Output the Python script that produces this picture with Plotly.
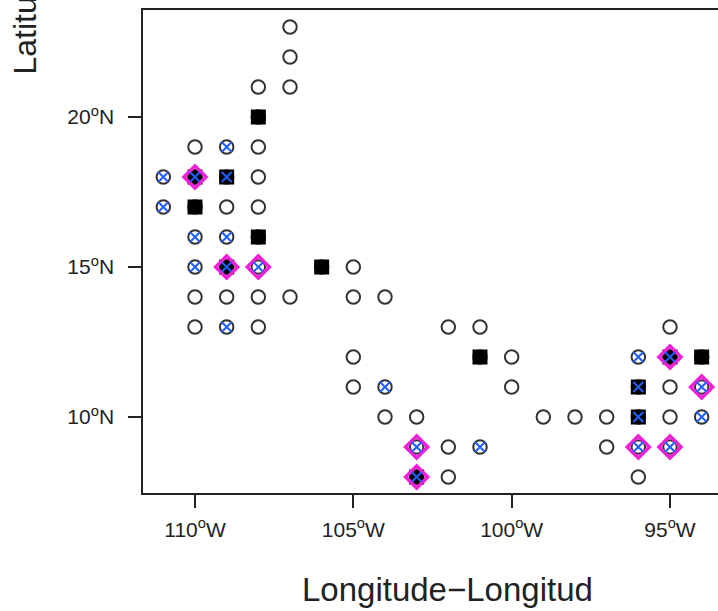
import plotly.graph_objects as go

# All sampled stations (open circles)
circle_lon = [-107, -107, -108, -107, -108,
              -110, -109, -108,
              -111, -110, -109, -108,
              -111, -110, -109, -108,
              -110, -109, -108,
              -110, -109, -108, -106, -105,
              -110, -109, -108, -107, -105, -104,
              -110, -109, -108, -102, -101, -95,
              -105, -101, -100, -96, -95, -94,
              -105, -104, -100, -96, -95, -94,
              -104, -103, -99, -98, -97, -96, -95, -94,
              -103, -102, -101, -97, -96, -95,
              -103, -102, -96]
circle_lat = [23, 22, 21, 21, 20,
              19, 19, 19,
              18, 18, 18, 18,
              17, 17, 17, 17,
              16, 16, 16,
              15, 15, 15, 15, 15,
              14, 14, 14, 14, 14, 14,
              13, 13, 13, 13, 13, 13,
              12, 12, 12, 12, 12, 12,
              11, 11, 11, 11, 11, 11,
              10, 10, 10, 10, 10, 10, 10, 10,
              9, 9, 9, 9, 9, 9,
              8, 8, 8]

# Filled squares
square_lon = [-108, -110, -109, -110, -108, -109, -106, -101, -103, -96, -96, -95, -94]
square_lat = [20, 18, 18, 17, 16, 15, 15, 12, 8, 11, 10, 12, 12]

# Blue crosses
cross_lon = [-109, -111, -110, -109, -111, -110, -109, -110, -109, -108, -109,
             -104, -103, -103, -101, -96, -95, -96, -94, -96, -94, -96, -95]
cross_lat = [19, 18, 18, 18, 17, 16, 16, 15, 15, 15, 13,
             11, 9, 8, 9, 12, 12, 11, 11, 10, 10, 9, 9]

# Magenta diamonds
diamond_lon = [-110, -109, -108, -103, -103, -96, -95, -95, -94]
diamond_lat = [18, 15, 15, 9, 8, 9, 9, 12, 11]

x_tick_vals = [-110, -105, -100, -95]
x_tick_text = ["110<sup>o</sup>W", "105<sup>o</sup>W", "100<sup>o</sup>W", "95<sup>o</sup>W"]
y_tick_vals = [10, 15, 20]
y_tick_text = ["10<sup>o</sup>N", "15<sup>o</sup>N", "20<sup>o</sup>N"]

FONT = "Liberation Sans, Arial, sans-serif"

fig = go.Figure()
fig.add_trace(go.Scatter(x=circle_lon, y=circle_lat, mode="markers",
                         marker=dict(symbol="circle-open", size=13.5, color="#333333",
                                     line=dict(width=2, color="#333333")),
                         showlegend=False, hoverinfo="skip"))
fig.add_trace(go.Scatter(x=square_lon, y=square_lat, mode="markers",
                         marker=dict(symbol="square", size=15, color="black",
                                     line=dict(width=0)),
                         showlegend=False, hoverinfo="skip"))
fig.add_trace(go.Scatter(x=diamond_lon, y=diamond_lat, mode="markers",
                         marker=dict(symbol="diamond-open", size=17, color="#f020d8",
                                     line=dict(width=3.5, color="#f020d8")),
                         showlegend=False, hoverinfo="skip"))
fig.add_trace(go.Scatter(x=cross_lon, y=cross_lat, mode="markers",
                         marker=dict(symbol="x-thin-open", size=10, color="#1f5fff",
                                     line=dict(width=2, color="#1f5fff")),
                         showlegend=False, hoverinfo="skip"))

fig.update_layout(
    width=718, height=611, autosize=False,
    margin=dict(l=143, r=0, t=10, b=118, pad=0),
    paper_bgcolor="white", plot_bgcolor="white",
    font=dict(family=FONT, color="#222222"),
    xaxis=dict(range=[-111.642, -93.484], showgrid=False, zeroline=False,
               showline=True, linecolor="#222222", linewidth=1.5, mirror=True,
               ticks="outside", ticklen=13, tickwidth=1.5, tickcolor="#222222",
               tickvals=x_tick_vals, ticktext=x_tick_text,
               tickfont=dict(size=21, family=FONT, color="#222222"),
               ticklabelstandoff=4),
    yaxis=dict(range=[7.467, 23.567], showgrid=False, zeroline=False,
               showline=True, linecolor="#222222", linewidth=1.5, mirror=False,
               ticks="outside", ticklen=13, tickwidth=1.5, tickcolor="#222222",
               tickvals=y_tick_vals, ticktext=y_tick_text,
               tickfont=dict(size=21, family=FONT, color="#222222"),
               ticklabelstandoff=10),
    annotations=[
        dict(text="Longitude\u2212Longitud", xref="paper", yref="paper",
             x=0.5287, y=-0.2008, xanchor="center", yanchor="middle",
             showarrow=False, font=dict(size=33, family=FONT, color="#222222")),
        dict(text="Latitude\u2212Latitud", xref="paper", yref="paper",
             x=-0.2052, y=1.1025, xanchor="center", yanchor="middle", textangle=-90,
             showarrow=False, font=dict(size=32, family=FONT, color="#222222")),
    ],
)

fig.write_html("out.html")
